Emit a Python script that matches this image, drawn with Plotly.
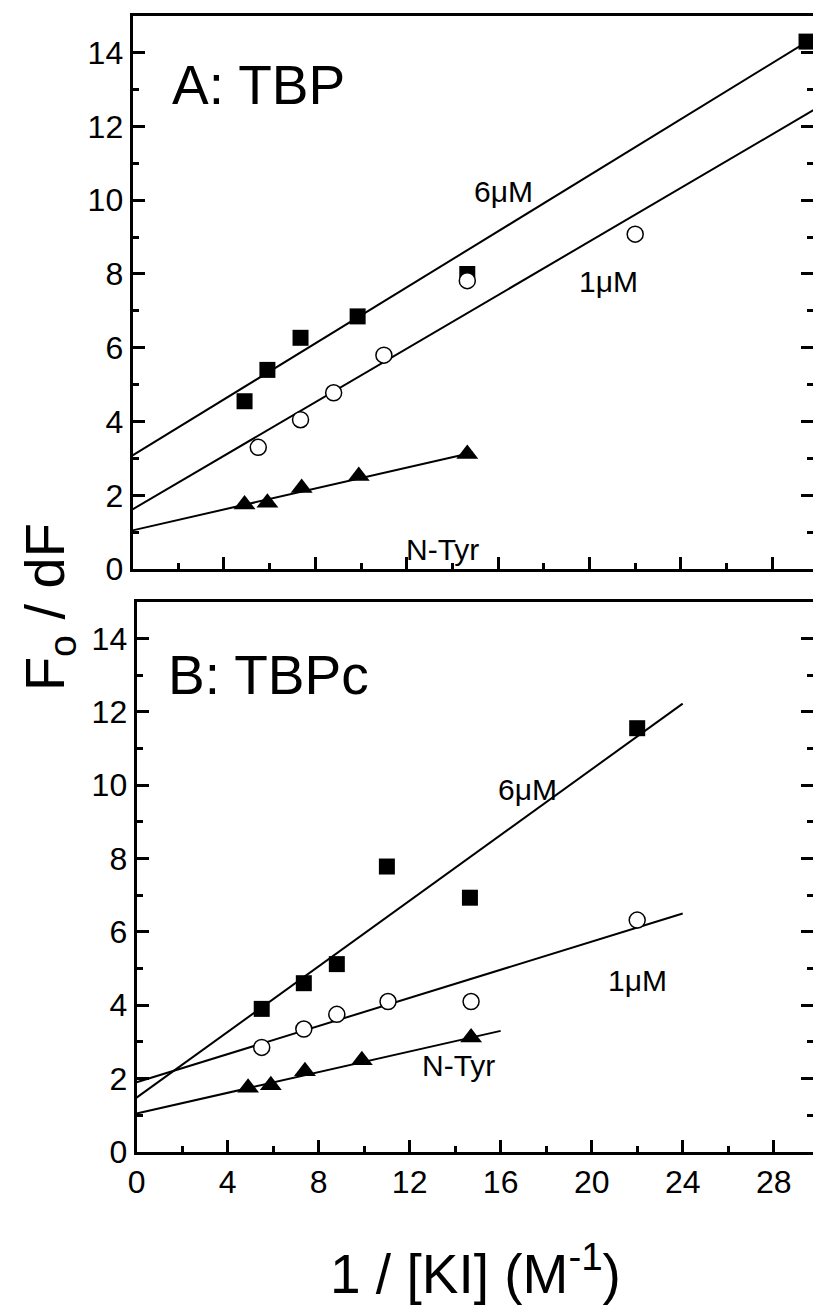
import plotly.graph_objects as go

# ---------------- data ----------------
# Panel A: TBP
A_x6 = [4.9, 5.9, 7.35, 9.85, 14.65, 29.5]
A_y6 = [4.55, 5.4, 6.27, 6.85, 8.0, 14.3]
A_x1 = [5.5, 7.35, 8.8, 11.0, 14.65, 22.0]
A_y1 = [3.3, 4.05, 4.78, 5.8, 7.82, 9.08]
A_xN = [4.9, 5.9, 7.4, 9.9, 14.65]
A_yN = [1.75, 1.8, 2.2, 2.52, 3.12]
A_fit6_x = [0, 29.8]
A_fit6_y = [3.08, 14.40]
A_fit1_x = [0, 29.8]
A_fit1_y = [1.62, 12.44]
A_fitN_x = [0, 14.9]
A_fitN_y = [1.05, 3.16]

# Panel B: TBPc
B_x6 = [5.5, 7.35, 8.8, 11.0, 14.65, 22.0]
B_y6 = [3.9, 4.6, 5.12, 7.78, 6.93, 11.55]
B_x1 = [5.5, 7.35, 8.8, 11.05, 14.7, 22.0]
B_y1 = [2.85, 3.35, 3.75, 4.1, 4.1, 6.32]
B_xN = [4.9, 5.9, 7.4, 9.9, 14.7]
B_yN = [1.75, 1.82, 2.2, 2.5, 3.12]
B_fit6_x = [0, 24]
B_fit6_y = [1.48, 12.22]
B_fit1_x = [0, 24]
B_fit1_y = [1.9, 6.5]
B_fitN_x = [0, 16]
B_fitN_y = [1.05, 3.3]

x_ticks = [0, 4, 8, 12, 16, 20, 24, 28]
y_ticks = [0, 2, 4, 6, 8, 10, 12, 14]

W, H = 813, 1311
FONT = "Liberation Sans, Arial, Helvetica, sans-serif"


def px(x):
    return x / W


def py(y):
    return 1 - y / H


fig = go.Figure()


def add_panel(xa, ya, fits, sq, ci, tr):
    for fx, fy in fits:
        fig.add_trace(go.Scatter(x=fx, y=fy, mode="lines", xaxis=xa, yaxis=ya,
                                 line=dict(color="black", width=2), showlegend=False,
                                 hoverinfo="skip"))
    fig.add_trace(go.Scatter(x=sq[0], y=sq[1], mode="markers", xaxis=xa, yaxis=ya,
                             marker=dict(symbol="square", size=16, color="black"),
                             showlegend=False, cliponaxis=False))
    fig.add_trace(go.Scatter(x=ci[0], y=ci[1], mode="markers", xaxis=xa, yaxis=ya,
                             marker=dict(symbol="circle", size=16, color="white",
                                         line=dict(color="black", width=1.5)),
                             showlegend=False, cliponaxis=False))
    fig.add_trace(go.Scatter(x=tr[0], y=tr[1], mode="markers", xaxis=xa, yaxis=ya,
                             marker=dict(symbol="triangle-up", size=19, color="black"),
                             showlegend=False, cliponaxis=False))


add_panel("x", "y",
          [(A_fit6_x, A_fit6_y), (A_fit1_x, A_fit1_y), (A_fitN_x, A_fitN_y)],
          (A_x6, A_y6), (A_x1, A_y1), (A_xN, A_yN))
add_panel("x2", "y2",
          [(B_fit6_x, B_fit6_y), (B_fit1_x, B_fit1_y), (B_fitN_x, B_fitN_y)],
          (B_x6, B_y6), (B_x1, B_y1), (B_xN, B_yN))

# invisible traces so the right-hand tick-only axes are drawn
fig.add_trace(go.Scatter(x=[None], y=[None], xaxis="x", yaxis="y3", showlegend=False))
fig.add_trace(go.Scatter(x=[None], y=[None], xaxis="x2", yaxis="y4", showlegend=False))

tickfont = dict(family=FONT, size=32, color="black")
axis_common = dict(showline=True, linecolor="black", linewidth=3,
                   ticks="inside", ticklen=12, tickwidth=3, tickcolor="black",
                   showgrid=False, zeroline=False, tickfont=tickfont)
xminor = dict(ticks="inside", ticklen=6, tickwidth=3, dtick=2, tick0=0, tickcolor="black")
yminor = dict(ticks="inside", ticklen=6, tickwidth=3, dtick=1, tick0=0, tickcolor="black")
right_common = dict(range=[0, 15], side="right", showline=False, ticks="inside",
                    ticklen=12, tickwidth=3, tickcolor="black", tickvals=y_ticks,
                    showticklabels=False, showgrid=False, zeroline=False, minor=yminor)

fig.update_layout(
    width=W, height=H, margin=dict(l=0, r=0, t=0, b=0),
    paper_bgcolor="white", plot_bgcolor="white",
    xaxis=dict(domain=[px(125), 1], range=[0, (813 - 125) / 23.1], anchor="y",
               tickvals=x_ticks, showticklabels=False, mirror=True,
               minor=xminor, **axis_common),
    yaxis=dict(domain=[py(577), py(16)], range=[0, 15], anchor="x",
               tickvals=y_ticks, mirror=False, minor=yminor, **axis_common),
    yaxis3=dict(overlaying="y", anchor="x", **right_common),
    xaxis2=dict(domain=[px(129), 1], range=[0, (813 - 129) / 23.01], anchor="y2",
                tickvals=x_ticks, mirror=True, minor=xminor, **axis_common),
    yaxis2=dict(domain=[py(1168), py(610)], range=[0, 15], anchor="x2",
                tickvals=y_ticks, mirror=False, minor=yminor, **axis_common),
    yaxis4=dict(overlaying="y2", anchor="x2", **right_common),
)

ann = []


def label(text, x, y, size, **kw):
    ann.append(dict(text=text, x=px(x), y=py(y), xref="paper", yref="paper",
                    showarrow=False, font=dict(family=FONT, size=size, color="black"),
                    xanchor="center", yanchor="middle", **kw))


label("A: TBP", 252, 86, 55)
label("B: TBPc", 262, 684, 55)
label("6μM", 500, 194, 30)
label("1μM", 606, 285, 30)
label("N-Tyr", 438, 557, 30)
label("6μM", 524, 800, 30)
label("1μM", 636, 994, 30)
label("N-Tyr", 455, 1080, 30)
label("F<sub>o</sub> / dF", 40, 616, 56, textangle=-90)
label("1 / [KI] (M<sup>-1</sup>)", 472, 1288, 55)

fig.update_layout(annotations=ann)
fig.write_html("out.html")
